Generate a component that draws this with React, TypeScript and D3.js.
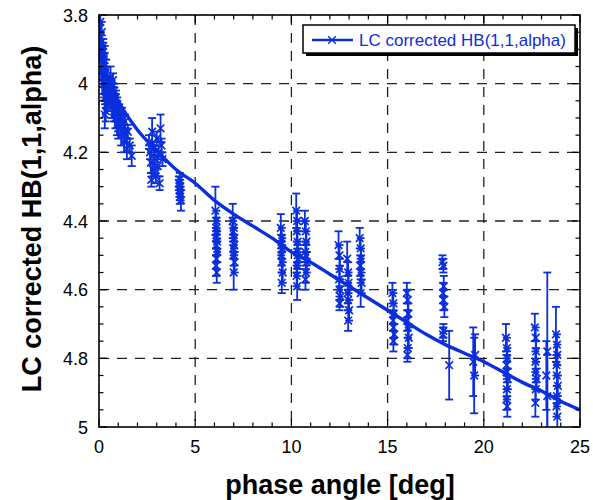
import React from 'react';
import * as d3 from 'd3';

// ---- data ----
const phaseAngle = [
  0.05,0.07,0.09,0.10,0.12,0.14,0.15,0.17,0.19,0.20,0.22,0.24,0.25,0.27,0.29,0.30,0.32,0.34,0.36,0.38,0.40,0.42,0.45,0.48,0.30,0.35,
  0.55,0.60,0.62,0.65,0.68,0.70,0.73,0.75,0.78,0.80,0.83,0.85,0.88,0.90,0.93,0.95,0.98,1.00,1.05,1.10,1.15,1.20,1.25,1.30,1.35,1.40,1.45,1.50,1.60,1.70,
  2.60,2.65,2.70,2.72,2.76,2.80,2.85,2.90,2.95,3.00,3.05,3.10,3.15,3.20,3.25,3.30,
  4.15,4.18,4.20,4.22,4.24,4.20,4.26,
  6.05,6.10,6.12,6.08,6.10,6.15,6.10,6.08,6.12,6.10,6.14,
  6.95,7.00,7.02,6.98,7.00,7.05,7.00,6.97,7.03,
  9.45,9.50,9.52,9.48,9.50,9.55,9.50,9.47,
  10.25,10.30,10.28,10.32,10.30,10.35,10.30,10.27,10.30,10.33,
  10.70,10.75,10.78,10.72,10.75,10.80,10.75,10.73,
  12.45,12.50,12.52,12.48,12.50,12.55,12.50,
  12.90,12.95,12.97,12.93,12.95,13.00,12.95,
  13.55,13.60,13.62,13.58,13.60,13.65,13.60,
  15.25,15.30,15.32,15.28,15.30,15.35,15.30,
  16.00,16.05,16.08,16.02,16.05,16.10,16.05,16.03,
  17.85,17.90,17.92,17.88,17.90,17.95,17.90,17.88,
  18.20,
  19.45,19.50,19.55,
  21.15,21.20,21.22,21.18,21.20,21.25,21.20,21.18,21.22,
  22.65,22.70,22.72,22.68,22.70,22.75,22.70,22.68,
  23.30,23.25,23.30,
  23.75,23.80,23.82,23.78,23.80,23.85,23.80,23.78,23.82,
];
const hbMag = [
  3.86,3.82,3.90,3.88,3.93,3.85,3.96,3.91,3.98,3.94,3.89,4.00,3.95,4.02,3.97,3.92,4.04,3.99,4.01,3.96,4.05,4.03,4.06,4.02,4.09,4.08,
  4.00,3.98,4.04,4.01,4.07,4.03,3.99,4.06,4.09,4.02,4.05,4.10,4.04,4.08,4.12,4.06,4.10,4.13,4.08,4.11,4.15,4.09,4.13,4.17,4.11,4.15,4.19,4.14,4.18,4.21,
  4.17,4.20,4.23,4.28,4.14,4.25,4.19,4.22,4.27,4.16,4.24,4.20,4.29,4.13,4.18,4.22,
  4.29,4.31,4.33,4.30,4.32,4.28,4.34,
  4.37,4.40,4.43,4.45,4.47,4.49,4.51,4.53,4.55,4.42,4.46,
  4.40,4.42,4.45,4.48,4.50,4.52,4.55,4.43,4.47,
  4.42,4.45,4.48,4.50,4.52,4.55,4.58,4.47,
  4.37,4.40,4.43,4.46,4.49,4.51,4.53,4.56,4.59,4.50,
  4.40,4.43,4.46,4.49,4.50,4.52,4.55,4.57,
  4.47,4.50,4.54,4.57,4.60,4.62,4.64,
  4.51,4.55,4.58,4.61,4.63,4.66,4.69,
  4.45,4.48,4.51,4.53,4.55,4.58,4.61,
  4.61,4.64,4.67,4.69,4.71,4.73,4.75,
  4.61,4.63,4.67,4.69,4.71,4.74,4.77,4.79,
  4.52,4.53,4.59,4.61,4.63,4.65,4.72,4.73,
  4.82,
  4.81,4.85,4.79,
  4.74,4.77,4.80,4.82,4.84,4.86,4.89,4.92,4.94,
  4.71,4.74,4.78,4.81,4.84,4.86,4.89,4.93,
  4.78,4.85,4.91,
  4.73,4.76,4.79,4.82,4.85,4.88,4.91,4.94,4.97,
];
const hbErr = [
  0.03,0.04,0.03,0.03,0.02,0.03,0.03,0.02,0.03,0.03,0.02,0.03,0.03,0.02,0.03,0.03,0.02,0.03,0.02,0.03,0.02,0.03,0.02,0.03,0.04,0.03,
  0.02,0.03,0.02,0.02,0.03,0.02,0.02,0.03,0.02,0.02,0.02,0.03,0.02,0.02,0.03,0.02,0.02,0.03,0.02,0.02,0.03,0.02,0.02,0.03,0.02,0.02,0.03,0.02,0.02,0.03,
  0.02,0.02,0.03,0.02,0.04,0.02,0.02,0.03,0.02,0.02,0.03,0.02,0.02,0.04,0.02,0.02,
  0.02,0.02,0.02,0.02,0.02,0.02,0.03,
  0.07,0.03,0.03,0.03,0.03,0.03,0.03,0.03,0.03,0.03,0.03,
  0.05,0.03,0.03,0.03,0.03,0.03,0.05,0.03,0.03,
  0.04,0.03,0.03,0.03,0.03,0.03,0.03,0.03,
  0.05,0.03,0.03,0.03,0.03,0.03,0.03,0.03,0.04,0.03,
  0.03,0.03,0.03,0.03,0.03,0.03,0.03,0.03,
  0.04,0.03,0.03,0.03,0.03,0.03,0.02,
  0.05,0.03,0.03,0.03,0.03,0.03,0.03,
  0.03,0.03,0.03,0.03,0.03,0.03,0.04,
  0.03,0.03,0.03,0.03,0.03,0.03,0.03,
  0.03,0.03,0.03,0.03,0.03,0.03,0.03,0.02,
  0.02,0.02,0.03,0.03,0.03,0.03,0.02,0.02,
  0.10,
  0.10,0.11,0.06,
  0.04,0.03,0.03,0.03,0.03,0.03,0.03,0.03,0.03,
  0.04,0.03,0.03,0.03,0.03,0.03,0.03,0.04,
  0.23,0.10,0.12,
  0.08,0.03,0.03,0.03,0.03,0.03,0.03,0.03,0.04,
];

// fitted phase curve
const fitAlpha = [0, 0.5, 1, 2, 3, 4, 5, 6, 7, 8, 9, 10, 11, 12, 13, 14, 15, 16, 17, 18, 19, 20, 21, 22, 23, 24, 25];
const fitMag = [3.90, 3.99, 4.05, 4.135, 4.195, 4.25, 4.29, 4.34, 4.38, 4.415, 4.45, 4.49, 4.52, 4.555, 4.59, 4.625, 4.66, 4.695, 4.73, 4.76, 4.785, 4.81, 4.84, 4.87, 4.895, 4.925, 4.95];

const xTicks = [0, 5, 10, 15, 20, 25];
const yTicks = [3.8, 4, 4.2, 4.4, 4.6, 4.8, 5];
const legendLabel = 'LC corrected HB(1,1,alpha)';
const xTitle = 'phase angle [deg]';
const yTitle = 'LC corrected HB(1,1,alpha)';

const BLUE = '#0b2fdc';
const FONT = '"Liberation Sans", Arial, Helvetica, sans-serif';

export default function App() {
  const W = 593, H = 500;
  const L = 99, R = 580, T = 15, B = 427;
  const x = d3.scaleLinear().domain([0, 25]).range([L, R]);
  const y = d3.scaleLinear().domain([3.8, 5]).range([T, B]);

  const xMinor = d3.range(0, 25.001, 1);
  const yMinor = d3.range(0, 25).map(i => 3.8 + i * 0.05);

  const n = Math.min(phaseAngle.length, hbMag.length, hbErr.length);
  const pts = d3.range(n).map(i => ({ a: phaseAngle[i], m: hbMag[i], e: hbErr[i] }));

  const line = d3.line<number>()
    .x((_, i) => x(fitAlpha[i]))
    .y(d => y(d))
    .curve(d3.curveMonotoneX);

  const ms = 3.8;
  const cap = 4;

  return (
    <svg width={W} height={H} style={{ position: 'absolute', left: 0, top: 0, background: '#fff' }}>
      <defs>
        <clipPath id="plotclip">
          <rect x={L} y={T} width={R - L} height={B - T} />
        </clipPath>
      </defs>
      <rect x={0} y={0} width={W} height={H} fill="#fff" />
      {/* grid */}
      {xTicks.filter(t => t > 0 && t < 25).map(t => (
        <line key={'gx' + t} x1={x(t)} x2={x(t)} y1={T} y2={B} stroke="#222" strokeWidth={1.3} strokeDasharray="10,8" />
      ))}
      {yTicks.filter(t => t > 3.8 && t < 5).map(t => (
        <line key={'gy' + t} x1={L} x2={R} y1={y(t)} y2={y(t)} stroke="#222" strokeWidth={1.3} strokeDasharray="10,8" />
      ))}
      {/* data */}
      <g clipPath="url(#plotclip)">
        <path d={line(fitMag) || ''} fill="none" stroke={BLUE} strokeWidth={3.4} />
        {pts.map((p, i) => {
          const cx = x(p.a), y1 = y(p.m - p.e), y2 = y(p.m + p.e);
          return (
            <g key={'e' + i} stroke={BLUE} strokeWidth={1.8}>
              <line x1={cx} x2={cx} y1={y1} y2={y2} />
              <line x1={cx - cap} x2={cx + cap} y1={y1} y2={y1} />
              <line x1={cx - cap} x2={cx + cap} y1={y2} y2={y2} />
            </g>
          );
        })}
        {pts.map((p, i) => {
          const cx = x(p.a), cy = y(p.m);
          return (
            <path key={'m' + i} d={`M${cx - ms},${cy - ms}L${cx + ms},${cy + ms}M${cx - ms},${cy + ms}L${cx + ms},${cy - ms}`}
              stroke={BLUE} strokeWidth={1.7} fill="none" />
          );
        })}
      </g>
      {/* ticks */}
      {xMinor.map(t => {
        const major = t % 5 === 0;
        const len = major ? 8 : 4.5;
        return (
          <g key={'xt' + t} stroke="#000" strokeWidth={1.2}>
            <line x1={x(t)} x2={x(t)} y1={B} y2={B - len} />
            <line x1={x(t)} x2={x(t)} y1={T} y2={T + len} />
          </g>
        );
      })}
      {yMinor.map((t, i) => {
        const major = i % 4 === 0;
        const len = major ? 8 : 4.5;
        return (
          <g key={'yt' + i} stroke="#000" strokeWidth={1.2}>
            <line x1={L} x2={L + len} y1={y(t)} y2={y(t)} />
            <line x1={R} x2={R - len} y1={y(t)} y2={y(t)} />
          </g>
        );
      })}
      {/* frame */}
      <rect x={L} y={T} width={R - L} height={B - T} fill="none" stroke="#000" strokeWidth={1.6} />
      {/* tick labels */}
      {xTicks.map(t => (
        <text key={'xl' + t} x={x(t)} y={453} textAnchor="middle" fontFamily={FONT} fontSize={18} fill="#000">{t}</text>
      ))}
      {yTicks.map(t => (
        <text key={'yl' + t} x={88} y={y(t) + 6.5} textAnchor="end" fontFamily={FONT} fontSize={18} fill="#000">{String(t)}</text>
      ))}
      {/* axis titles */}
      <text x={340} y={494} textAnchor="middle" fontFamily={FONT} fontSize={27} fontWeight="bold" fill="#000">{xTitle}</text>
      <text transform={`translate(41,219) rotate(-90)`} textAnchor="middle" fontFamily={FONT} fontSize={27} fontWeight="bold" fill="#000">{yTitle}</text>
      {/* legend */}
      <rect x={306} y={28} width={272} height={28} fill="#000" />
      <rect x={303} y={25} width={272} height={28} fill="#fff" stroke="#000" strokeWidth={1.5} />
      <line x1={312} x2={353} y1={40} y2={40} stroke={BLUE} strokeWidth={2.5} />
      <path d={`M${332 - ms},${40 - ms}L${332 + ms},${40 + ms}M${332 - ms},${40 + ms}L${332 + ms},${40 - ms}`} stroke={BLUE} strokeWidth={1.4} />
      <text x={359} y={46} fontFamily={FONT} fontSize={17} fill={BLUE}>{legendLabel}</text>
    </svg>
  );
}
